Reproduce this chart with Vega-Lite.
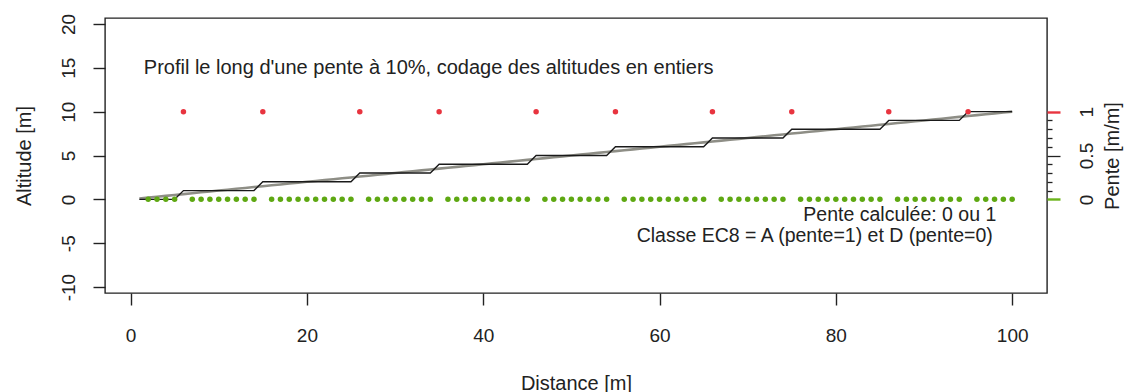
{
  "$schema": "https://vega.github.io/schema/vega-lite/v6.json",
  "width": 942,
  "height": 275,
  "autosize": {"type": "none"},
  "padding": {"left": 105, "top": 18, "right": 78, "bottom": 99},
  "background": "white",
  "config": {
    "font": "Liberation Sans",
    "view": {"stroke": "#222222", "strokeWidth": 1.4},
    "axis": {
      "domain": false,
      "grid": false,
      "tickColor": "#222222",
      "tickWidth": 1.4,
      "tickSize": 12,
      "labelColor": "#222222",
      "labelFont": "Liberation Sans",
      "labelFontSize": 19,
      "titleColor": "#222222",
      "titleFont": "Liberation Sans",
      "titleFontSize": 20,
      "titleFontWeight": "normal"
    }
  },
  "datasets": {
    "profil": [
      {"x": 1, "alt": 0.1, "ent": 0},
      {"x": 2, "alt": 0.2, "ent": 0, "pente": 0},
      {"x": 3, "alt": 0.3, "ent": 0, "pente": 0},
      {"x": 4, "alt": 0.4, "ent": 0, "pente": 0},
      {"x": 5, "alt": 0.5, "ent": 0, "pente": 0},
      {"x": 6, "alt": 0.6, "ent": 1, "pente": 1},
      {"x": 7, "alt": 0.7, "ent": 1, "pente": 0},
      {"x": 8, "alt": 0.8, "ent": 1, "pente": 0},
      {"x": 9, "alt": 0.9, "ent": 1, "pente": 0},
      {"x": 10, "alt": 1.0, "ent": 1, "pente": 0},
      {"x": 11, "alt": 1.1, "ent": 1, "pente": 0},
      {"x": 12, "alt": 1.2, "ent": 1, "pente": 0},
      {"x": 13, "alt": 1.3, "ent": 1, "pente": 0},
      {"x": 14, "alt": 1.4, "ent": 1, "pente": 0},
      {"x": 15, "alt": 1.5, "ent": 2, "pente": 1},
      {"x": 16, "alt": 1.6, "ent": 2, "pente": 0},
      {"x": 17, "alt": 1.7, "ent": 2, "pente": 0},
      {"x": 18, "alt": 1.8, "ent": 2, "pente": 0},
      {"x": 19, "alt": 1.9, "ent": 2, "pente": 0},
      {"x": 20, "alt": 2.0, "ent": 2, "pente": 0},
      {"x": 21, "alt": 2.1, "ent": 2, "pente": 0},
      {"x": 22, "alt": 2.2, "ent": 2, "pente": 0},
      {"x": 23, "alt": 2.3, "ent": 2, "pente": 0},
      {"x": 24, "alt": 2.4, "ent": 2, "pente": 0},
      {"x": 25, "alt": 2.5, "ent": 2, "pente": 0},
      {"x": 26, "alt": 2.6, "ent": 3, "pente": 1},
      {"x": 27, "alt": 2.7, "ent": 3, "pente": 0},
      {"x": 28, "alt": 2.8, "ent": 3, "pente": 0},
      {"x": 29, "alt": 2.9, "ent": 3, "pente": 0},
      {"x": 30, "alt": 3.0, "ent": 3, "pente": 0},
      {"x": 31, "alt": 3.1, "ent": 3, "pente": 0},
      {"x": 32, "alt": 3.2, "ent": 3, "pente": 0},
      {"x": 33, "alt": 3.3, "ent": 3, "pente": 0},
      {"x": 34, "alt": 3.4, "ent": 3, "pente": 0},
      {"x": 35, "alt": 3.5, "ent": 4, "pente": 1},
      {"x": 36, "alt": 3.6, "ent": 4, "pente": 0},
      {"x": 37, "alt": 3.7, "ent": 4, "pente": 0},
      {"x": 38, "alt": 3.8, "ent": 4, "pente": 0},
      {"x": 39, "alt": 3.9, "ent": 4, "pente": 0},
      {"x": 40, "alt": 4.0, "ent": 4, "pente": 0},
      {"x": 41, "alt": 4.1, "ent": 4, "pente": 0},
      {"x": 42, "alt": 4.2, "ent": 4, "pente": 0},
      {"x": 43, "alt": 4.3, "ent": 4, "pente": 0},
      {"x": 44, "alt": 4.4, "ent": 4, "pente": 0},
      {"x": 45, "alt": 4.5, "ent": 4, "pente": 0},
      {"x": 46, "alt": 4.6, "ent": 5, "pente": 1},
      {"x": 47, "alt": 4.7, "ent": 5, "pente": 0},
      {"x": 48, "alt": 4.8, "ent": 5, "pente": 0},
      {"x": 49, "alt": 4.9, "ent": 5, "pente": 0},
      {"x": 50, "alt": 5.0, "ent": 5, "pente": 0},
      {"x": 51, "alt": 5.1, "ent": 5, "pente": 0},
      {"x": 52, "alt": 5.2, "ent": 5, "pente": 0},
      {"x": 53, "alt": 5.3, "ent": 5, "pente": 0},
      {"x": 54, "alt": 5.4, "ent": 5, "pente": 0},
      {"x": 55, "alt": 5.5, "ent": 6, "pente": 1},
      {"x": 56, "alt": 5.6, "ent": 6, "pente": 0},
      {"x": 57, "alt": 5.7, "ent": 6, "pente": 0},
      {"x": 58, "alt": 5.8, "ent": 6, "pente": 0},
      {"x": 59, "alt": 5.9, "ent": 6, "pente": 0},
      {"x": 60, "alt": 6.0, "ent": 6, "pente": 0},
      {"x": 61, "alt": 6.1, "ent": 6, "pente": 0},
      {"x": 62, "alt": 6.2, "ent": 6, "pente": 0},
      {"x": 63, "alt": 6.3, "ent": 6, "pente": 0},
      {"x": 64, "alt": 6.4, "ent": 6, "pente": 0},
      {"x": 65, "alt": 6.5, "ent": 6, "pente": 0},
      {"x": 66, "alt": 6.6, "ent": 7, "pente": 1},
      {"x": 67, "alt": 6.7, "ent": 7, "pente": 0},
      {"x": 68, "alt": 6.8, "ent": 7, "pente": 0},
      {"x": 69, "alt": 6.9, "ent": 7, "pente": 0},
      {"x": 70, "alt": 7.0, "ent": 7, "pente": 0},
      {"x": 71, "alt": 7.1, "ent": 7, "pente": 0},
      {"x": 72, "alt": 7.2, "ent": 7, "pente": 0},
      {"x": 73, "alt": 7.3, "ent": 7, "pente": 0},
      {"x": 74, "alt": 7.4, "ent": 7, "pente": 0},
      {"x": 75, "alt": 7.5, "ent": 8, "pente": 1},
      {"x": 76, "alt": 7.6, "ent": 8, "pente": 0},
      {"x": 77, "alt": 7.7, "ent": 8, "pente": 0},
      {"x": 78, "alt": 7.8, "ent": 8, "pente": 0},
      {"x": 79, "alt": 7.9, "ent": 8, "pente": 0},
      {"x": 80, "alt": 8.0, "ent": 8, "pente": 0},
      {"x": 81, "alt": 8.1, "ent": 8, "pente": 0},
      {"x": 82, "alt": 8.2, "ent": 8, "pente": 0},
      {"x": 83, "alt": 8.3, "ent": 8, "pente": 0},
      {"x": 84, "alt": 8.4, "ent": 8, "pente": 0},
      {"x": 85, "alt": 8.5, "ent": 8, "pente": 0},
      {"x": 86, "alt": 8.6, "ent": 9, "pente": 1},
      {"x": 87, "alt": 8.7, "ent": 9, "pente": 0},
      {"x": 88, "alt": 8.8, "ent": 9, "pente": 0},
      {"x": 89, "alt": 8.9, "ent": 9, "pente": 0},
      {"x": 90, "alt": 9.0, "ent": 9, "pente": 0},
      {"x": 91, "alt": 9.1, "ent": 9, "pente": 0},
      {"x": 92, "alt": 9.2, "ent": 9, "pente": 0},
      {"x": 93, "alt": 9.3, "ent": 9, "pente": 0},
      {"x": 94, "alt": 9.4, "ent": 9, "pente": 0},
      {"x": 95, "alt": 9.5, "ent": 10, "pente": 1},
      {"x": 96, "alt": 9.6, "ent": 10, "pente": 0},
      {"x": 97, "alt": 9.7, "ent": 10, "pente": 0},
      {"x": 98, "alt": 9.8, "ent": 10, "pente": 0},
      {"x": 99, "alt": 9.9, "ent": 10, "pente": 0},
      {"x": 100, "alt": 10.0, "ent": 10, "pente": 0}
    ],
    "notes": [
      {"x": 1.5, "y": 15, "cote": "gauche", "texte": "Profil le long d'une pente à 10%, codage des altitudes en entiers"},
      {"x": 98.2, "y": -1.75, "cote": "droite", "texte": "Pente calculée: 0 ou 1"},
      {"x": 97.8, "y": -4.2, "cote": "droite", "texte": "Classe EC8 = A (pente=1) et D (pente=0)"}
    ]
  },
  "layer": [
    {
      "layer": [
        {
          "data": {"name": "profil"},
          "mark": {"type": "line", "color": "#8e8e86", "strokeWidth": 2.6},
          "encoding": {
            "x": {"field": "x", "type": "quantitative"},
            "y": {"field": "alt", "type": "quantitative"}
          }
        },
        {
          "data": {"name": "profil"},
          "mark": {"type": "line", "color": "#1a1a1a", "strokeWidth": 1.4},
          "encoding": {
            "x": {"field": "x", "type": "quantitative"},
            "y": {"field": "ent", "type": "quantitative"}
          }
        },
        {
          "data": {"name": "notes"},
          "transform": [{"filter": "datum.cote == 'gauche'"}],
          "mark": {"type": "text", "align": "left", "baseline": "middle", "fontSize": 20, "color": "#222222"},
          "encoding": {
            "x": {"field": "x", "type": "quantitative"},
            "y": {"field": "y", "type": "quantitative"},
            "text": {"field": "texte"}
          }
        },
        {
          "data": {"name": "notes"},
          "transform": [{"filter": "datum.cote == 'droite'"}],
          "mark": {"type": "text", "align": "right", "baseline": "middle", "fontSize": 19.5, "color": "#222222"},
          "encoding": {
            "x": {"field": "x", "type": "quantitative"},
            "y": {"field": "y", "type": "quantitative"},
            "text": {"field": "texte"}
          }
        }
      ],
      "encoding": {
        "x": {
          "type": "quantitative",
          "scale": {"domain": [-2.9, 103.95], "nice": false, "zero": false},
          "axis": {
            "title": "Distance [m]",
            "values": [0, 20, 40, 60, 80, 100],
            "labelPadding": 30,
            "labelBaseline": "middle",
            "titleBaseline": "middle",
            "titleY": 90
          }
        },
        "y": {
          "type": "quantitative",
          "scale": {"domain": [-10.68, 20.68], "nice": false, "zero": false},
          "axis": {
            "title": "Altitude [m]",
            "orient": "left",
            "values": [-10, -5, 0, 5, 10, 15, 20],
            "labelExpr": "datum.value + ''",
            "labelAngle": -90,
            "labelAlign": "center",
            "labelBaseline": "middle",
            "labelPadding": 25,
            "titleAngle": -90,
            "titleBaseline": "middle",
            "titleAlign": "center",
            "titleX": -81,
            "titleY": 137.5
          }
        }
      }
    },
    {
      "data": {"name": "profil"},
      "transform": [{"filter": "isValid(datum.pente)"}],
      "mark": {"type": "point", "filled": true, "size": 30, "opacity": 1},
      "encoding": {
        "x": {"field": "x", "type": "quantitative"},
        "y": {
          "field": "pente",
          "type": "quantitative",
          "scale": {"domain": [-1.068, 2.068], "nice": false, "zero": false},
          "axis": {
            "title": "Pente [m/m]",
            "orient": "right",
            "values": [0, 0.1, 0.2, 0.3, 0.4, 0.5, 0.6, 0.7, 0.8, 0.9, 1],
            "tickSize": {"condition": {"test": "datum.value == 0 || datum.value == 0.5 || datum.value == 1", "value": 13}, "value": 5},
            "tickColor": {"condition": [{"test": "datum.value == 1", "value": "#e8343f"}, {"test": "datum.value == 0", "value": "#6cb41c"}], "value": "#222222"},
            "tickWidth": {"condition": {"test": "datum.value == 0 || datum.value == 1", "value": 2.4}, "value": 1.3},
            "labelExpr": "datum.value == 0 ? '0' : datum.value == 0.5 ? '0.5' : datum.value == 1 ? '1' : ''",
            "labelAngle": -90,
            "labelAlign": "center",
            "labelBaseline": "middle",
            "labelPadding": 26,
            "titleAngle": -90,
            "titleBaseline": "middle",
            "titleAlign": "center",
            "titleX": 65,
            "titleY": 137.5
          }
        },
        "color": {
          "field": "pente",
          "type": "nominal",
          "scale": {"domain": [0, 1], "range": ["#5ea812", "#e8343f"]},
          "legend": null
        }
      }
    }
  ],
  "resolve": {"scale": {"y": "independent"}, "axis": {"y": "independent"}}
}
